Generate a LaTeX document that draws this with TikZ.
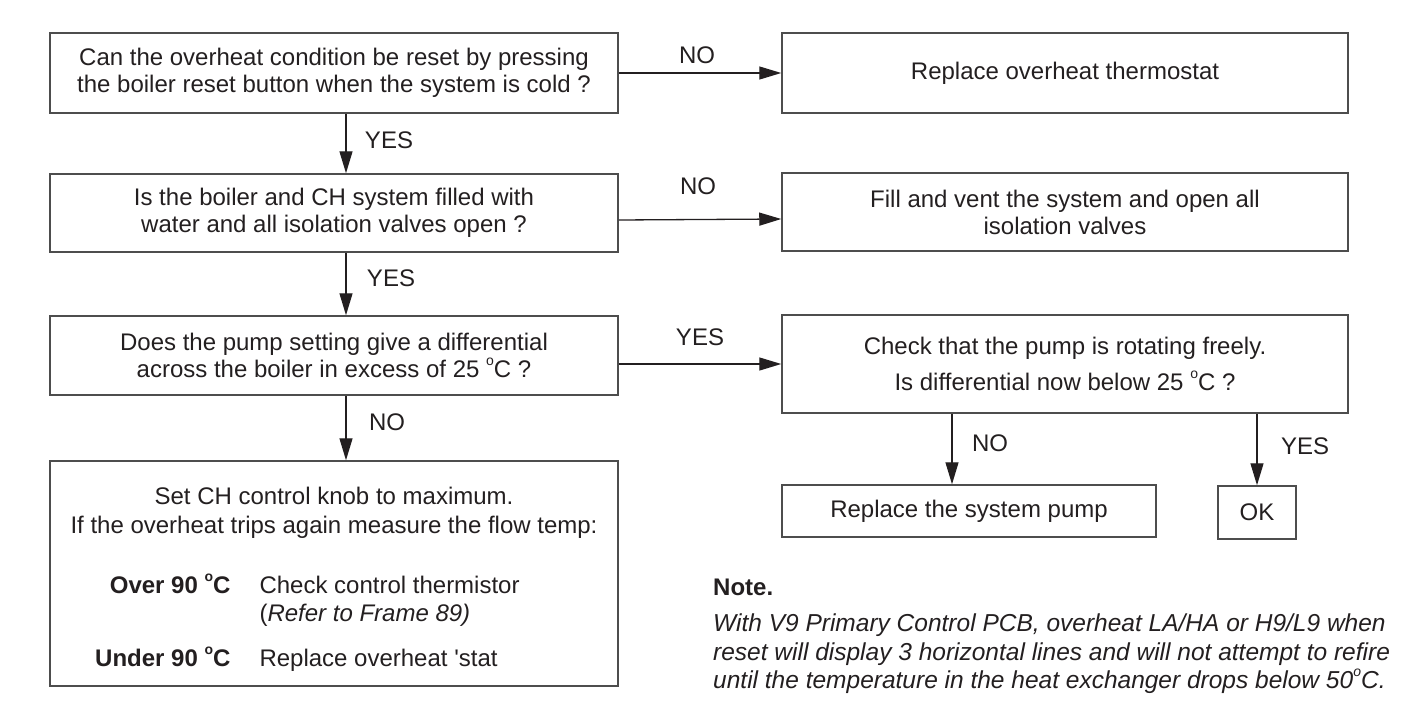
\documentclass[tikz,border=0pt]{standalone}
\usepackage{fontspec}
\setmainfont{Liberation Sans}
\usetikzlibrary{positioning}
\usetikzlibrary{arrows.meta}

\definecolor{inkgray}{HTML}{231F20}
\definecolor{framegray}{HTML}{4D4D4D}

\newcommand{\degO}{\raisebox{0.5em}{\fontsize{14}{14}\selectfont o}}

\begin{document}
\begin{tikzpicture}[x=1pt, y=-1pt,
	every node/.style={text=inkgray, font=\fontsize{24}{27}\selectfont},
	box/.style={draw=framegray, line width=1.5pt, align=center, inner sep=0pt},
	arr/.style={draw=inkgray, line width=1.3pt, -{Triangle[length=22pt, width=13pt]}}
	]
	\useasboundingbox (0,0) rectangle (1424,712);

	% questions on the left, actions on the right
	\node[box, minimum width=568pt, minimum height=80pt] (q1) at (334,73) {Can the overheat condition be reset by pressing\\the boiler reset button when the system is cold ?};
	\node[box, minimum width=566pt, minimum height=80pt] (r1) at (1065,73) {Replace overheat thermostat};
	\node[box, minimum width=568pt, minimum height=78pt] (q2) at (334,213) {Is the boiler and CH system filled with\\water and all isolation valves open ?};
	\node[box, minimum width=566pt, minimum height=78pt] (r2) at (1065,212) {Fill and vent the system and open all\\isolation valves};
	\node[box, minimum width=568pt, minimum height=79pt] (q3) at (334,355.5) {Does the pump setting give a differential\\across the boiler in excess of 25 \degO C ?};
	\node[box, minimum width=566pt, minimum height=98pt] (q4) at (1065,364) {Check that the pump is rotating freely.\\[9pt]Is differential now below 25 \degO C ?};
	\node[box, minimum width=374pt, minimum height=52pt] (r3) at (969,511) {Replace the system pump};
	\node[box, minimum width=78pt, minimum height=53pt] (ok) at (1257,512.5) {OK};

	% flow temperature box
	\node[box, minimum width=568pt, minimum height=225pt] (r4) at (334,573.5) {};
	\node[align=center, font=\fontsize{24}{29}\selectfont] (r4head) at (334,512.5) {Set CH control knob to maximum.\\If the overheat trips again measure the flow temp:};
	\node[anchor=base east] (over) at (234,593.5) {\textbf{Over 90 \degO C}};
	\node[anchor=base west] (overtxt) at (256,593.5) {Check control thermistor};
	\node[anchor=base west] (refer) at (256,621.5) {(\textit{Refer to Frame 89)}};
	\node[anchor=base east] (under) at (234,666.5) {\textbf{Under 90 \degO C}};
	\node[anchor=base west] (undertxt) at (256,666.5) {Replace overheat \textquotesingle stat};

	% note
	\node[anchor=base west, inner sep=0pt] (notehead) at (713,595.5) {\textbf{Note.}};
	\node[anchor=base west, align=left, inner sep=0pt, font=\fontsize{24.5}{28.5}\selectfont\itshape] (notetxt) at (713,688.5) {With V9 Primary Control PCB, overheat LA/HA or H9/L9 when\\reset will display 3 horizontal lines and will not attempt to refire\\until the temperature in the heat exchanger drops below 50\degO C.};

	% connectors
	\coordinate (stem) at (346,0);
	\draw[arr] (q1.south -| stem) -- (q2.north -| stem);
	\draw[arr] (q2.south -| stem) -- (q3.north -| stem);
	\draw[arr] (q3.south -| stem) -- (r4.north -| stem);
	\draw[arr] (q1.east) -- (r1.west);
	\draw[arr] ([yshift=-7pt]q2.east) -- ([yshift=-7pt]r2.west);
	\draw[arr] (q3.east |- q4.west) -- (q4.west);
	\draw[arr] ([xshift=-17pt]r3.north |- q4.south) -- ([xshift=-17pt]r3.north);
	\draw[arr] (ok.north |- q4.south) -- (ok.north);

	\node (yes1) at (389,140) {YES};
	\node (yes2) at (391,278) {YES};
	\node (no3) at (387,422) {NO};
	\node (no1) at (697,55) {NO};
	\node (no2) at (698,186) {NO};
	\node (yes3) at (700,337) {YES};
	\node (no4) at (990,443) {NO};
	\node (yes4) at (1305,446) {YES};
\end{tikzpicture}
\end{document}
